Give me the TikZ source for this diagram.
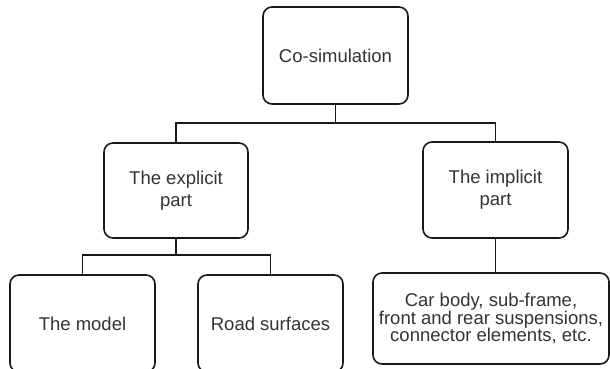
\documentclass[tikz,border=0pt]{standalone}
\usepackage{fontspec}
\setmainfont{Liberation Sans}
\begin{document}
\begin{tikzpicture}[x=1pt,y=-1pt,
  box/.style={draw=black!90, line width=1.6pt, rounded corners=9pt, align=center,
    text=black!80, font=\fontsize{18.5}{22}\selectfont, inner sep=0pt},
  conn/.style={draw=black!90, line width=1.6pt}]
\useasboundingbox (0,0) rectangle (610,369);
\node[box, minimum width=145pt, minimum height=97pt] (cosim) at (335.5,55.5) {Co-simulation};
\node[box, minimum width=144pt, minimum height=95pt] (explicit) at (176,190.5) {The explicit\\part};
\node[box, minimum width=145pt, minimum height=96pt] (implicit) at (495.5,190) {The implicit\\part};
\node[box, minimum width=145pt, minimum height=97pt] (model) at (82.5,323.5) {The model};
\node[box, minimum width=145pt, minimum height=97pt] (road) at (270.5,323.5) {Road surfaces};
\node[box, minimum width=236pt, minimum height=91pt, font=\fontsize{18.5}{17.5}\selectfont] (car) at (491,318.5) {Car body, sub-frame,\\front and rear suspensions,\\connector elements, etc.};
\coordinate (bus1) at (335.5,123);
\coordinate (bus2) at (176,255);
\draw[conn] (cosim.south) -- (bus1);
\draw[conn] (explicit.north) -- (explicit.north |- bus1) -- (implicit.north |- bus1) -- (implicit.north);
\draw[conn] (explicit.south) -- (bus2);
\draw[conn] (model.north) -- (model.north |- bus2) -- (road.north |- bus2) -- (road.north);
\draw[conn] (implicit.south) -- (implicit.south |- car.north);
\end{tikzpicture}
\end{document}
